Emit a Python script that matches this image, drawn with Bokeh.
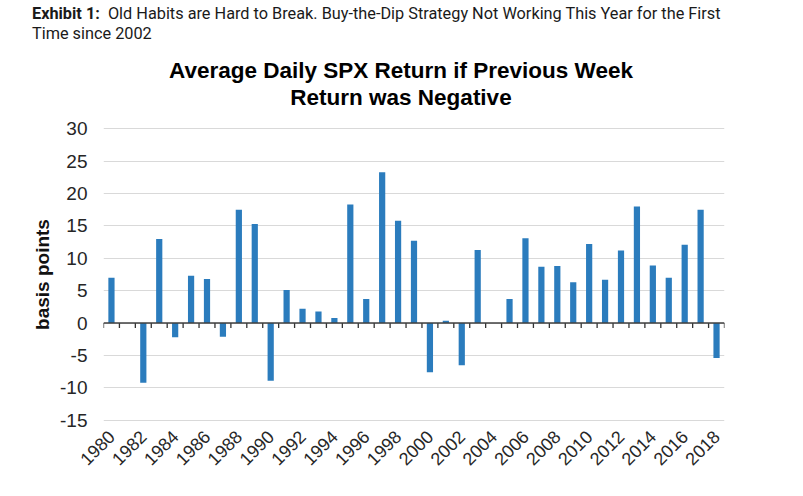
import math
from bokeh.plotting import figure
from bokeh.models import Range1d, FixedTicker, Span, ColumnDataSource, Div, PrintfTickFormatter
from bokeh.layouts import column
from bokeh.embed import file_html
from bokeh.resources import INLINE

# ---- data ----
years = list(range(1980, 2019))
returns_bp = [7.0, 0.0, -9.2, 13.0, -2.2, 7.3, 6.8, -2.1, 17.5, 15.3,
              -8.9, 5.1, 2.2, 1.8, 0.8, 18.3, 3.7, 23.3, 15.8, 12.7,
              -7.6, 0.35, -6.5, 11.3, 0.0, 3.7, 13.1, 8.7, 8.8, 6.3,
              12.2, 6.7, 11.2, 18.0, 8.9, 7.0, 12.1, 17.5, -5.4]
label_years = [y for y in years if y % 2 == 0]
y_ticks = [-15, -10, -5, 0, 5, 10, 15, 20, 25, 30]

header_bold = "Exhibit 1:"
header_rest = "Old Habits are Hard to Break. Buy-the-Dip Strategy Not Working This Year for the First"
header_line2 = "Time since 2002"
title_line1 = "Average Daily SPX Return if Previous Week"
title_line2 = "Return was Negative"
y_label = "basis points"

BAR = "#2B7CBD"
FONT = "Liberation Sans"

TOP_H = 119
header_html = (
    f'<div style="position:relative;width:803px;height:{TOP_H}px;background:white;">'
    f'<div style="position:absolute;left:32px;top:4px;font-family:Roboto;font-size:16.3px;'
    f'line-height:20px;color:#1a1a1a;white-space:nowrap;">'
    f'<b>{header_bold}</b>&nbsp;&nbsp;{header_rest}<br>{header_line2}</div>'
    f'<div style="position:absolute;left:0px;width:802px;top:58px;text-align:center;'
    f'font-family:\'Liberation Sans\';font-weight:bold;font-size:22.5px;line-height:26.6px;'
    f'color:#000;white-space:nowrap;">{title_line1}<br>{title_line2}</div>'
    f'</div>'
)
head = Div(text=header_html, width=803, height=TOP_H, margin=0)

p = figure(width=803, height=496 - TOP_H, output_backend="svg", toolbar_location=None,
           x_range=Range1d(years[0] - 0.5, years[-1] + 0.5),
           y_range=Range1d(-15.2, 30.2),
           min_border_left=103, min_border_right=79,
           min_border_top=8, min_border_bottom=75, margin=0)
p.title = None
p.outline_line_color = None
p.background_fill_color = "white"
p.border_fill_color = "white"

src = ColumnDataSource(dict(x=years, top=returns_bp))
p.vbar(x="x", top="top", bottom=0, width=0.39, source=src,
       fill_color=BAR, line_color=None)

# zero axis line with category-boundary ticks
p.add_layout(Span(location=0, dimension="width", line_color="#404040", line_width=1.5))
bounds = [y - 0.5 for y in years] + [years[-1] + 0.5]
p.segment(x0=bounds, x1=bounds, y0=[0] * len(bounds), y1=[-0.75] * len(bounds),
          line_color="#333333", line_width=1.3)

# grids
p.xgrid.grid_line_color = None
p.ygrid.grid_line_color = "#D9D9D9"
p.ygrid.grid_line_width = 1
p.yaxis.ticker = FixedTicker(ticks=y_ticks)

# y axis
yax = p.yaxis[0]
yax.formatter = PrintfTickFormatter(format="%d")
yax.axis_line_color = None
yax.major_tick_line_color = None
yax.minor_tick_line_color = None
yax.major_tick_out = 0
yax.major_tick_in = 0
yax.major_label_standoff = 16
yax.major_label_text_font = FONT
yax.major_label_text_font_size = "19px"
yax.major_label_text_color = "#262626"
yax.axis_label = y_label
yax.axis_label_text_font = FONT
yax.axis_label_text_font_style = "bold"
yax.axis_label_text_font_size = "19px"
yax.axis_label_text_color = "#111111"
yax.axis_label_standoff = 4

# x axis
xax = p.xaxis[0]
xax.ticker = FixedTicker(ticks=label_years)
xax.axis_line_color = None
xax.major_tick_line_color = None
xax.minor_tick_line_color = None
xax.major_tick_out = 0
xax.major_tick_in = 0
xax.major_label_orientation = math.pi / 4
xax.major_label_standoff = 12
xax.major_label_text_font = FONT
xax.major_label_text_font_size = "18px"
xax.major_label_text_color = "#262626"

layout = column(head, p, spacing=0, margin=0)
open("out.html", "w").write(file_html(layout, INLINE))
